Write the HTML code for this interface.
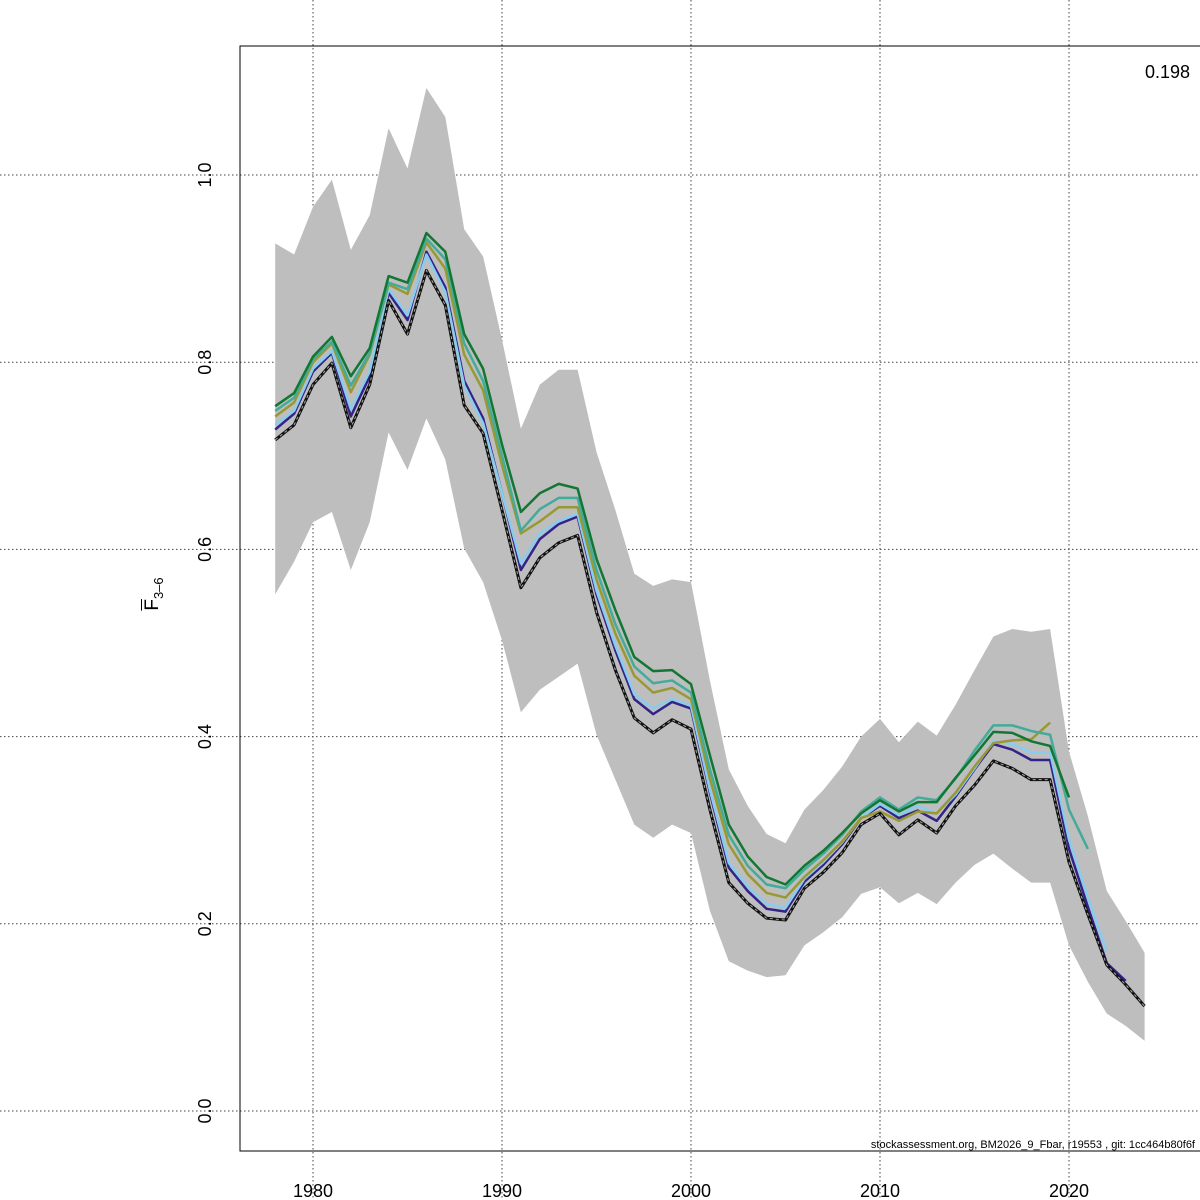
<!DOCTYPE html>
<html><head><meta charset="utf-8"><style>
html,body{margin:0;padding:0;background:#fff;}
svg{display:block;font-family:"Liberation Sans",sans-serif;}
</style></head><body>
<svg id="chart" width="1200" height="1200" viewBox="0 0 1200 1200"></svg>
<script>
const years = [];
for (let y = 1978; y <= 2024; y++) years.push(y);
const xTicks = [1980, 1990, 2000, 2010, 2020];
const yTicks = [0.0, 0.2, 0.4, 0.6, 0.8, 1.0];
const yTickLabels = ["0.0", "0.2", "0.4", "0.6", "0.8", "1.0"];
const baseF = [0.717,0.733,0.776,0.799,0.730,0.776,0.866,0.830,0.898,0.861,0.754,0.724,0.642,0.559,0.591,0.607,0.615,0.533,0.471,0.420,0.404,0.418,0.408,0.322,0.244,0.222,0.206,0.204,0.238,0.255,0.276,0.306,0.318,0.295,0.311,0.297,0.326,0.348,0.374,0.366,0.354,0.354,0.266,0.210,0.156,0.135,0.112];
const upperCI = [0.927,0.915,0.966,0.995,0.920,0.957,1.050,1.007,1.093,1.062,0.942,0.913,0.824,0.729,0.776,0.792,0.792,0.704,0.642,0.574,0.561,0.568,0.565,0.460,0.365,0.326,0.296,0.286,0.322,0.343,0.368,0.400,0.419,0.394,0.416,0.401,0.434,0.471,0.507,0.515,0.512,0.515,0.384,0.315,0.235,0.203,0.169];
const lowerCI = [0.552,0.587,0.629,0.640,0.578,0.629,0.725,0.685,0.740,0.696,0.601,0.565,0.503,0.426,0.450,0.464,0.478,0.402,0.354,0.306,0.292,0.306,0.297,0.214,0.160,0.150,0.143,0.145,0.177,0.191,0.207,0.232,0.239,0.222,0.233,0.221,0.244,0.263,0.275,0.259,0.244,0.244,0.177,0.138,0.104,0.091,0.075];
const peel1 = [0.728,0.745,0.790,0.810,0.742,0.785,0.874,0.845,0.918,0.880,0.780,0.740,0.660,0.578,0.611,0.627,0.635,0.552,0.492,0.440,0.424,0.437,0.430,0.340,0.260,0.235,0.216,0.213,0.245,0.263,0.285,0.313,0.326,0.313,0.321,0.310,0.336,0.365,0.392,0.386,0.375,0.375,0.280,0.218,0.158,0.139];
const peel2 = [0.733,0.748,0.793,0.812,0.750,0.790,0.878,0.850,0.915,0.875,0.775,0.735,0.660,0.585,0.617,0.630,0.638,0.556,0.497,0.445,0.430,0.440,0.433,0.343,0.265,0.240,0.221,0.217,0.248,0.266,0.287,0.313,0.328,0.316,0.326,0.318,0.338,0.366,0.395,0.392,0.383,0.383,0.290,0.228,0.170];
const peel3 = [0.748,0.762,0.803,0.822,0.775,0.810,0.885,0.878,0.932,0.910,0.820,0.780,0.700,0.620,0.643,0.655,0.655,0.578,0.520,0.475,0.457,0.460,0.447,0.365,0.295,0.262,0.242,0.238,0.258,0.275,0.295,0.320,0.335,0.322,0.335,0.332,0.355,0.385,0.412,0.412,0.406,0.402,0.322,0.280];
const peel4 = [0.753,0.767,0.806,0.827,0.785,0.815,0.892,0.885,0.938,0.918,0.830,0.793,0.712,0.640,0.660,0.670,0.665,0.590,0.535,0.485,0.470,0.471,0.456,0.380,0.306,0.272,0.250,0.242,0.262,0.278,0.297,0.318,0.332,0.320,0.330,0.330,0.356,0.380,0.405,0.404,0.395,0.390,0.335];
const peel5 = [0.742,0.757,0.800,0.820,0.768,0.808,0.883,0.873,0.928,0.900,0.808,0.770,0.690,0.617,0.630,0.645,0.645,0.568,0.510,0.465,0.447,0.452,0.440,0.355,0.285,0.253,0.233,0.228,0.250,0.268,0.288,0.313,0.320,0.310,0.320,0.318,0.340,0.368,0.393,0.396,0.397,0.415];

const NS = "http://www.w3.org/2000/svg";
const svg = document.getElementById('chart');
const X = y => 313 + (y - 1980) * 18.9;
const Y = v => 1111 - v * 936;
function mk(tag, attrs, parent) {
  const e = document.createElementNS(NS, tag);
  for (const k in attrs) e.setAttribute(k, attrs[k]);
  (parent || svg).appendChild(e);
  return e;
}
xTicks.forEach(t => {
  const l = mk('line', {x1: X(t), x2: X(t), y1: 0, y2: 1200, stroke: '#444', 'stroke-width': 1, 'stroke-dasharray': '1.5,2.5'});
  
  
});
yTicks.forEach((t, i) => {
  const l = mk('line', {x1: 0, x2: 1200, y1: Y(t), y2: Y(t), stroke: '#444', 'stroke-width': 1, 'stroke-dasharray': '1.5,2.5'});
  
  
});
let pts = years.map((yr, i) => X(yr) + ',' + Y(upperCI[i]));
for (let i = years.length - 1; i >= 0; i--) pts.push(X(years[i]) + ',' + Y(lowerCI[i]));
const band = mk('polygon', {points: pts.join(' '), fill: '#bebebe', stroke: 'none'});


function line(vals, color, w, name) {
  const p = vals.map((v, i) => X(years[i]) + ',' + Y(v)).join(' ');
  const e = mk('polyline', {points: p, fill: 'none', stroke: color, 'stroke-width': w, 'stroke-linejoin': 'round'});
  
  
  return p;
}
line(peel1, '#332288', 2.5, 'retro-peel-1-line');
line(peel2, '#88CCEE', 2.5, 'retro-peel-2-line');
line(peel5, '#999933', 2.5, 'retro-peel-5-line');
line(peel3, '#44AA99', 2.5, 'retro-peel-3-line');
line(peel4, '#117733', 2.5, 'retro-peel-4-line');
const bp = line(baseF, '#111', 3, 'base-estimate-line');
const d = mk('polyline', {points: bp, fill: 'none', stroke: '#aaa', 'stroke-width': 1, 'stroke-dasharray': '3,3'});


const box = mk('path', {d: 'M1200,46 H240 V1151 H1200', fill: 'none', stroke: '#000', 'stroke-width': 1});


xTicks.forEach(t => {
  const e = mk('text', {x: X(t), y: 1197, 'font-size': 18, 'text-anchor': 'middle', fill: '#000'});
  e.textContent = t;
  
  
});
yTicks.forEach((t, i) => {
  const e = mk('text', {x: 211, y: Y(t), 'font-size': 18, 'text-anchor': 'middle', fill: '#000', transform: 'rotate(-90 211 ' + Y(t) + ')'});
  e.textContent = yTickLabels[i];
  
  
});
</script>
<div style="position:absolute;left:0;top:0;width:1200px;height:1200px;pointer-events:none;font-family:'Liberation Sans',sans-serif;">
  <div style="position:absolute;left:118px;top:582px;width:70px;height:24px;transform:rotate(-90deg);font-size:19px;text-align:center;line-height:24px;">
    <span style="text-decoration:overline;">F</span><sub style="font-size:13px;">3–6</sub>
  </div>
  <div style="position:absolute;right:10px;top:62px;font-size:18px;">0.198</div>
  <div style="position:absolute;right:5px;top:1139px;font-size:11px;">stockassessment.org, BM2026_9_Fbar, r19553 , git: 1cc464b80f6f</div>
</div>
</body></html>
